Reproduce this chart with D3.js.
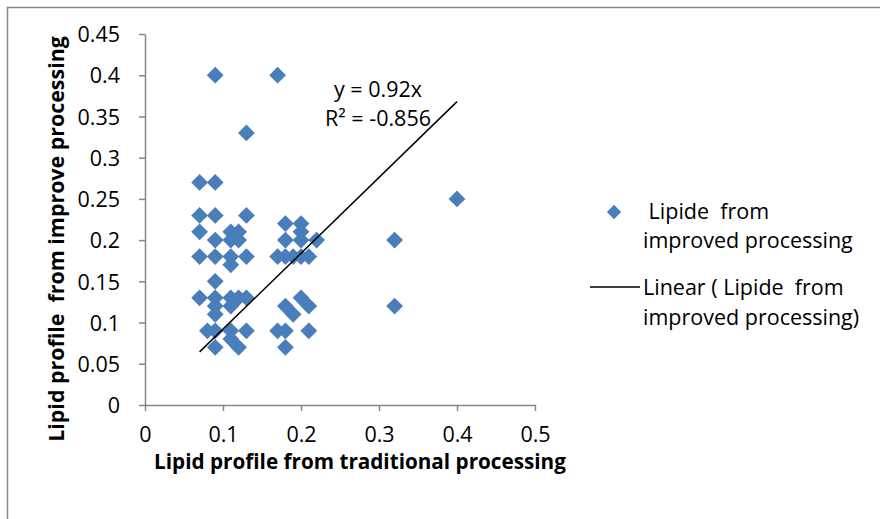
<!DOCTYPE html>
<html>
<head>
<meta charset="utf-8">
<script src="https://cdn.jsdelivr.net/npm/d3@7"></script>
<style>
  body { margin: 0; background: #fff; }
  text { font-family: "Open Sans", sans-serif; fill: #000; white-space: pre; }
</style>
</head>
<body>
<script>
// ---------------------------------- data ----------------------------------//
var traditional = [
  0.09, 0.17, 0.13,
  0.07, 0.09,
  0.07, 0.09, 0.13,
  0.07, 0.11, 0.12,
  0.09, 0.11, 0.12,
  0.07, 0.09, 0.11, 0.13,
  0.11, 0.09,
  0.07, 0.09, 0.11, 0.12, 0.13,
  0.09, 0.11, 0.09,
  0.08, 0.09, 0.11, 0.13,
  0.11, 0.12, 0.09,
  0.18, 0.20, 0.20,
  0.18, 0.20, 0.22,
  0.17, 0.18, 0.19, 0.20, 0.21,
  0.18, 0.20, 0.21, 0.19,
  0.17, 0.18, 0.21, 0.18,
  0.32, 0.32, 0.40
];
var improved = [
  0.40, 0.40, 0.33,
  0.27, 0.27,
  0.23, 0.23, 0.23,
  0.21, 0.21, 0.21,
  0.20, 0.20, 0.20,
  0.18, 0.18, 0.18, 0.18,
  0.17, 0.15,
  0.13, 0.13, 0.13, 0.13, 0.13,
  0.12, 0.12, 0.11,
  0.09, 0.09, 0.09, 0.09,
  0.08, 0.07, 0.07,
  0.22, 0.22, 0.21,
  0.20, 0.20, 0.20,
  0.18, 0.18, 0.18, 0.18, 0.18,
  0.12, 0.13, 0.12, 0.11,
  0.09, 0.09, 0.09, 0.07,
  0.20, 0.12, 0.25
];
var xTicks = [0, 0.1, 0.2, 0.3, 0.4, 0.5];
var yTicks = [0, 0.05, 0.1, 0.15, 0.2, 0.25, 0.3, 0.35, 0.4, 0.45];
var slope = 0.92;
var equationLines = ["y = 0.92x", "R\u00b2 = -0.856"];
var seriesName = [" Lipide  from", "improved processing"];
var trendName = ["Linear ( Lipide  from", "improved processing)"];
var xTitle = "Lipid profile from traditional processing";
var yTitle = "Lipid profile  from improve processing";

var points = traditional.map(function (t, i) {
  return { x: t, y: improved[i] };
});

//-------------------------------------------- layout ---------------------------------------------//
var width = 880,
  height = 519;
var blue = "#4a7ebb",
  axisGrey = "#868686",
  fontSize = "21.5px";

var svg = d3
  .select("body")
  .append("svg")
  .attr("width", width)
  .attr("height", height);

// outer chart border (runs off the right and bottom of the picture)
svg
  .append("rect")
  .attr("x", 7.5)
  .attr("y", 7.5)
  .attr("width", width + 10)
  .attr("height", height + 10)
  .attr("fill", "none")
  .attr("stroke", axisGrey)
  .attr("stroke-width", 1.5);

var x = d3.scaleLinear().domain([0, 0.5]).range([145, 535]);
var y = d3.scaleLinear().domain([0, 0.45]).range([405, 34]);

//--------------------------------------------- axes ----------------------------------------------//
var xAxis = svg
  .append("g")
  .attr("transform", "translate(0," + y(0) + ")")
  .call(
    d3
      .axisBottom(x)
      .tickValues(xTicks)
      .tickSize(6)
      .tickSizeOuter(0)
      .tickPadding(16)
      .tickFormat(d3.format("~g"))
  );

var yAxis = svg
  .append("g")
  .attr("transform", "translate(" + x(0) + ",0)")
  .call(
    d3
      .axisLeft(y)
      .tickValues(yTicks)
      .tickSize(6)
      .tickSizeOuter(0)
      .tickPadding(19)
      .tickFormat(d3.format("~g"))
  );

[xAxis, yAxis].forEach(function (g) {
  g.select(".domain").attr("stroke", axisGrey).attr("stroke-width", 1.5);
  g.selectAll(".tick line").attr("stroke", axisGrey).attr("stroke-width", 1.5);
  g.selectAll(".tick text")
    .attr("fill", "#000")
    .style("font-family", "'Open Sans', sans-serif")
    .style("font-size", fontSize);
});
yAxis.selectAll(".tick text").attr("dy", "0.36em");

svg
  .append("text")
  .attr("x", 360)
  .attr("y", 469)
  .attr("text-anchor", "middle")
  .style("font-size", "20.7px")
  .style("font-weight", "bold")
  .text(xTitle);

svg
  .append("text")
  .attr("transform", "translate(64,239) rotate(-90)")
  .attr("text-anchor", "middle")
  .style("font-size", "21.4px")
  .style("font-weight", "bold")
  .text(yTitle);

//-------------------------------------------- points ---------------------------------------------//
var diamond = d3.symbol().type(d3.symbolDiamond2).size(180);

svg
  .append("g")
  .selectAll("path")
  .data(points)
  .enter()
  .append("path")
  .attr("d", diamond)
  .attr("fill", blue)
  .attr("transform", function (d) {
    return "translate(" + x(d.x) + "," + y(d.y) + ")";
  });

//-------------------------------------------- trend line -----------------------------------------//
var xMin = d3.min(traditional),
  xMax = d3.max(traditional);

svg
  .append("line")
  .attr("x1", x(xMin))
  .attr("y1", y(slope * xMin))
  .attr("x2", x(xMax))
  .attr("y2", y(slope * xMax))
  .attr("stroke", "#000")
  .attr("stroke-width", 1.5);

svg
  .append("g")
  .selectAll("text")
  .data(equationLines)
  .enter()
  .append("text")
  .attr("x", 378)
  .attr("y", function (d, i) {
    return 97 + i * 29;
  })
  .attr("text-anchor", "middle")
  .style("font-size", fontSize)
  .text(function (d) {
    return d;
  });

//--------------------------------------------- legend --------------------------------------------//
var legend = svg.append("g");

legend
  .append("path")
  .attr("d", d3.symbol().type(d3.symbolDiamond2).size(130))
  .attr("fill", blue)
  .attr("transform", "translate(614,212)");

legend
  .selectAll("text.series")
  .data(seriesName)
  .enter()
  .append("text")
  .attr("class", "series")
  .attr("x", 643)
  .attr("y", function (d, i) {
    return 219 + i * 29;
  })
  .style("font-size", fontSize)
  .text(function (d) {
    return d;
  });

legend
  .append("line")
  .attr("x1", 590)
  .attr("x2", 640)
  .attr("y1", 287)
  .attr("y2", 287)
  .attr("stroke", "#000")
  .attr("stroke-width", 1.5);

legend
  .selectAll("text.trend")
  .data(trendName)
  .enter()
  .append("text")
  .attr("class", "trend")
  .attr("x", 643)
  .attr("y", function (d, i) {
    return 295 + i * 30;
  })
  .style("font-size", fontSize)
  .text(function (d) {
    return d;
  });
</script>
</body>
</html>
